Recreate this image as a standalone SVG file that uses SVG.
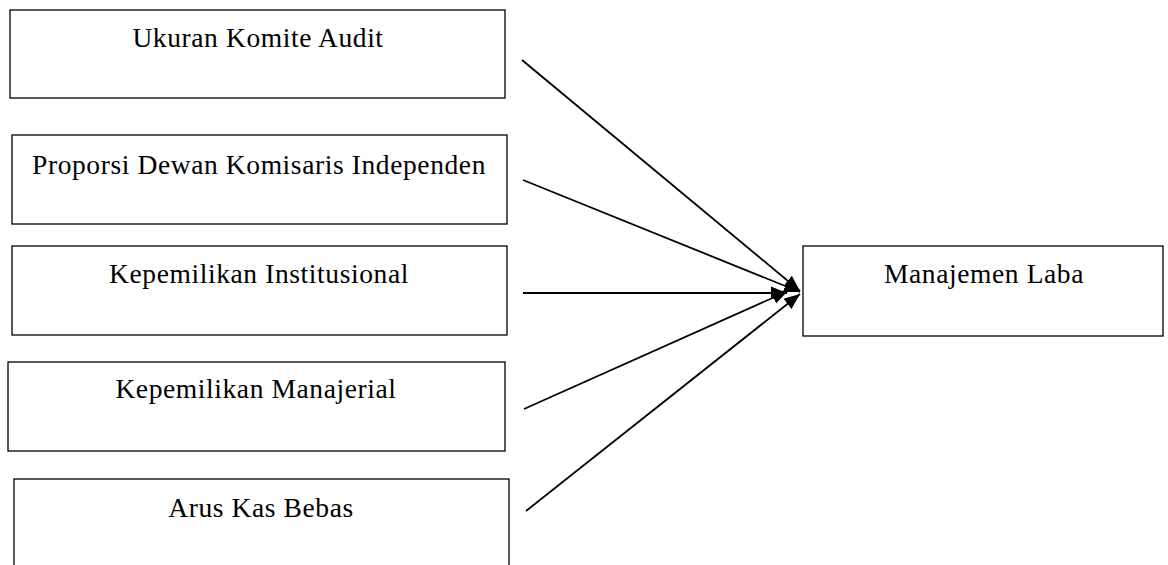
<svg xmlns="http://www.w3.org/2000/svg" width="1168" height="565" viewBox="0 0 1168 565">
<style>
.box{fill:#fff;stroke:#000;stroke-width:1.3}
.lbl{font-family:"Liberation Serif","Times New Roman",serif;font-size:27.5px;letter-spacing:0.6px;fill:#000;text-anchor:middle}
.conn{stroke:#000;stroke-width:1.8;fill:none;marker-end:url(#arr)}
</style>
<defs>
<marker id="arr" markerUnits="userSpaceOnUse" markerWidth="18" markerHeight="14" refX="16" refY="7" orient="auto">
<path d="M0,0.5 L16,7 L0,13.5 z" fill="#000"/>
</marker>
</defs>
<rect width="1168" height="565" fill="#fff"/>
<g id="connectors">
<line class="conn" x1="522" y1="60" x2="800" y2="291"/>
<line class="conn" x1="523" y1="180" x2="800" y2="292"/>
<line class="conn" x1="523" y1="293" x2="787" y2="293"/>
<line class="conn" x1="524" y1="409" x2="788" y2="291"/>
<line class="conn" x1="526" y1="511" x2="800" y2="294"/>
</g>
<g id="ukuran">
<rect class="box" x="10" y="10" width="495" height="88"/>
<text class="lbl" x="258" y="47">Ukuran Komite Audit</text>
</g>
<g id="proporsi">
<rect class="box" x="12" y="135" width="495" height="89"/>
<text class="lbl" x="259" y="174">Proporsi Dewan Komisaris Independen</text>
</g>
<g id="institusional">
<rect class="box" x="12" y="246" width="495" height="89"/>
<text class="lbl" x="259" y="283">Kepemilikan Institusional</text>
</g>
<g id="manajerial">
<rect class="box" x="8" y="362" width="497" height="89"/>
<text class="lbl" x="256" y="398">Kepemilikan Manajerial</text>
</g>
<g id="arus">
<rect class="box" x="14" y="479" width="495" height="100"/>
<text class="lbl" x="261" y="517">Arus Kas Bebas</text>
</g>
<g id="manajemen">
<rect class="box" x="803" y="246" width="360" height="90"/>
<text class="lbl" x="984" y="283">Manajemen Laba</text>
</g>
</svg>
